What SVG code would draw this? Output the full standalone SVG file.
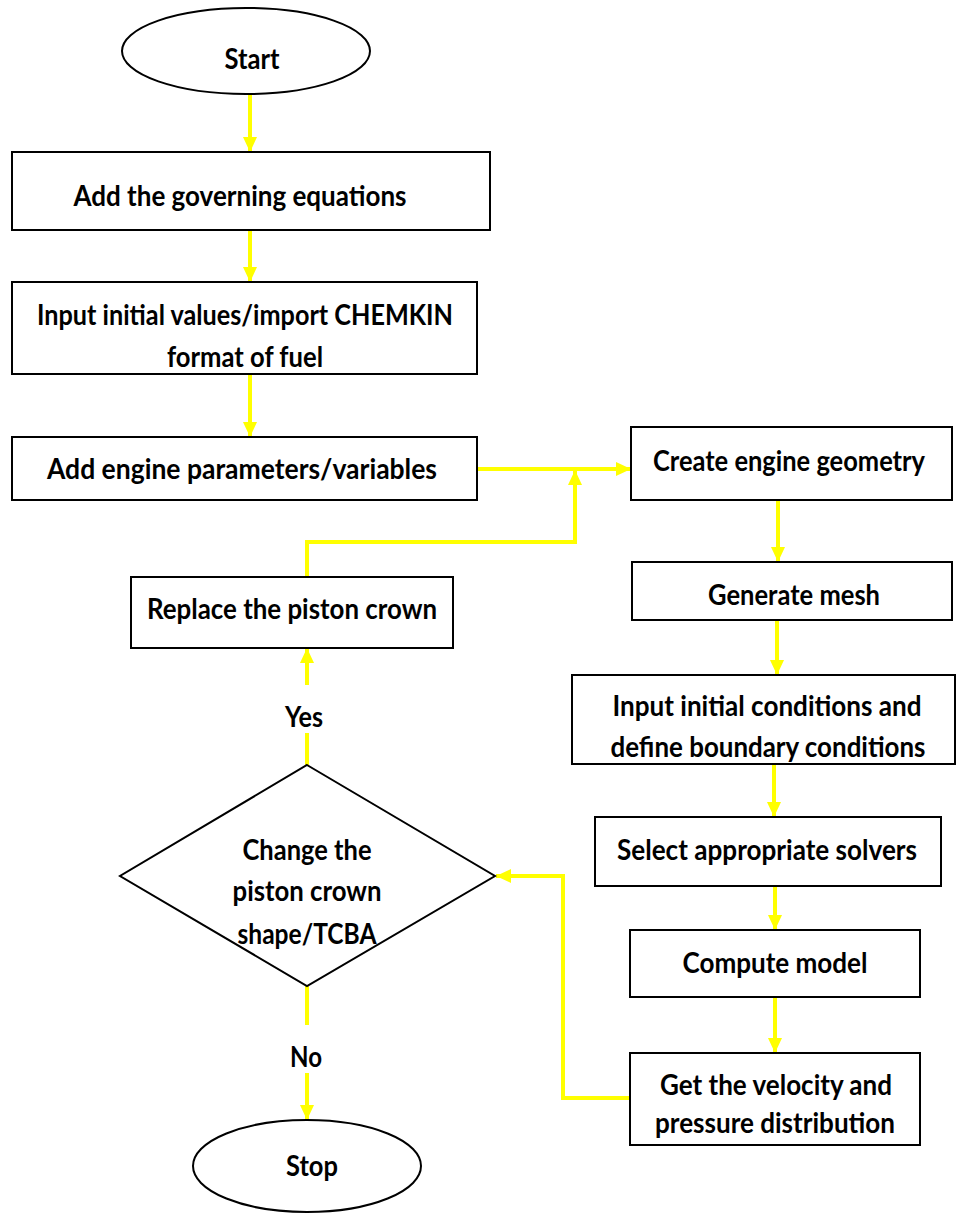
<svg xmlns="http://www.w3.org/2000/svg" width="958" height="1214" viewBox="0 0 958 1214">
<style>
.box{fill:#fff;stroke:#000;stroke-width:2}
.t{font-family:Lato,"Open Sans","Liberation Sans",sans-serif;font-weight:bold;font-size:28px;fill:#000;text-anchor:middle}
.c{fill:none;stroke:#FFFF00;stroke-width:4}
</style>
<defs>
<marker id="ah" markerUnits="userSpaceOnUse" markerWidth="16" markerHeight="14" refX="15" refY="7" orient="auto">
<path d="M0,0 L15,7 L0,14 z" fill="#FFFF00"/>
</marker>
</defs>
<rect width="958" height="1214" fill="#fff"/>
<g id="connectors">
<line class="c" x1="250" y1="94" x2="250" y2="152" marker-end="url(#ah)"/>
<line class="c" x1="250" y1="230" x2="250" y2="282" marker-end="url(#ah)"/>
<line class="c" x1="250" y1="374" x2="250" y2="437" marker-end="url(#ah)"/>
<line class="c" x1="477" y1="469" x2="631" y2="469" marker-end="url(#ah)"/>
<path class="c" d="M307,577 V542 H575 V470" marker-end="url(#ah)"/>
<line class="c" x1="778" y1="500" x2="778" y2="562" marker-end="url(#ah)"/>
<line class="c" x1="777" y1="620" x2="777" y2="675" marker-end="url(#ah)"/>
<line class="c" x1="774" y1="764" x2="774" y2="817" marker-end="url(#ah)"/>
<line class="c" x1="775" y1="886" x2="775" y2="930" marker-end="url(#ah)"/>
<line class="c" x1="775" y1="997" x2="775" y2="1053" marker-end="url(#ah)"/>
<path class="c" d="M630,1098 H563 V876 H496" marker-end="url(#ah)"/>
<line class="c" x1="307" y1="765" x2="307" y2="733"/>
<line class="c" x1="307" y1="685" x2="307" y2="648" marker-end="url(#ah)"/>
<text class="t" x="304" y="727" textLength="38" lengthAdjust="spacingAndGlyphs">Yes</text>
<line class="c" x1="307" y1="986" x2="307" y2="1025"/>
<line class="c" x1="307" y1="1073" x2="307" y2="1120" marker-end="url(#ah)"/>
<text class="t" x="306" y="1067" textLength="32" lengthAdjust="spacingAndGlyphs">No</text>
</g>
<g id="start">
<ellipse class="box" cx="246" cy="51" rx="124" ry="43"/>
<text class="t" x="252" y="69" textLength="55" lengthAdjust="spacingAndGlyphs">Start</text>
</g>
<g id="governing">
<rect class="box" x="12" y="152" width="478" height="78"/>
<text class="t" x="240" y="206" textLength="333" lengthAdjust="spacingAndGlyphs">Add the governing equations</text>
</g>
<g id="input-values">
<rect class="box" x="12" y="282" width="465" height="92"/>
<text class="t" x="245" y="325" textLength="416" lengthAdjust="spacingAndGlyphs">Input initial values/import CHEMKIN</text>
<text class="t" x="245" y="367" textLength="156" lengthAdjust="spacingAndGlyphs">format of fuel</text>
</g>
<g id="engine-params">
<rect class="box" x="12" y="437" width="465" height="63"/>
<text class="t" x="242" y="479" textLength="390" lengthAdjust="spacingAndGlyphs">Add engine parameters/variables</text>
</g>
<g id="geometry">
<rect class="box" x="631" y="427" width="321" height="73"/>
<text class="t" x="789" y="471" textLength="272" lengthAdjust="spacingAndGlyphs">Create engine geometry</text>
</g>
<g id="mesh">
<rect class="box" x="632" y="562" width="320" height="58"/>
<text class="t" x="794" y="605" textLength="172" lengthAdjust="spacingAndGlyphs">Generate mesh</text>
</g>
<g id="conditions">
<rect class="box" x="572" y="675" width="383" height="89"/>
<text class="t" x="767" y="716" textLength="309" lengthAdjust="spacingAndGlyphs">Input initial conditions and</text>
<text class="t" x="768" y="757" textLength="315" lengthAdjust="spacingAndGlyphs">define boundary conditions</text>
</g>
<g id="solvers">
<rect class="box" x="595" y="817" width="346" height="69"/>
<text class="t" x="767" y="860" textLength="300" lengthAdjust="spacingAndGlyphs">Select appropriate solvers</text>
</g>
<g id="compute">
<rect class="box" x="630" y="930" width="290" height="67"/>
<text class="t" x="775" y="973" textLength="185" lengthAdjust="spacingAndGlyphs">Compute model</text>
</g>
<g id="results">
<rect class="box" x="630" y="1053" width="290" height="92"/>
<text class="t" x="776" y="1095" textLength="232" lengthAdjust="spacingAndGlyphs">Get the velocity and</text>
<text class="t" x="775" y="1133" textLength="240" lengthAdjust="spacingAndGlyphs">pressure distribution</text>
</g>
<g id="replace">
<rect class="box" x="131" y="577" width="322" height="71"/>
<text class="t" x="292" y="619" textLength="290" lengthAdjust="spacingAndGlyphs">Replace the piston crown</text>
</g>
<g id="decision">
<polygon class="box" points="307,765 495,876 307,986 120,876"/>
<text class="t" x="307" y="860" textLength="129" lengthAdjust="spacingAndGlyphs">Change the</text>
<text class="t" x="307" y="901" textLength="149" lengthAdjust="spacingAndGlyphs">piston crown</text>
<text class="t" x="307" y="944" textLength="139" lengthAdjust="spacingAndGlyphs">shape/TCBA</text>
</g>
<g id="stop">
<ellipse class="box" cx="307" cy="1166" rx="114" ry="46"/>
<text class="t" x="312" y="1176" textLength="52" lengthAdjust="spacingAndGlyphs">Stop</text>
</g>
</svg>
